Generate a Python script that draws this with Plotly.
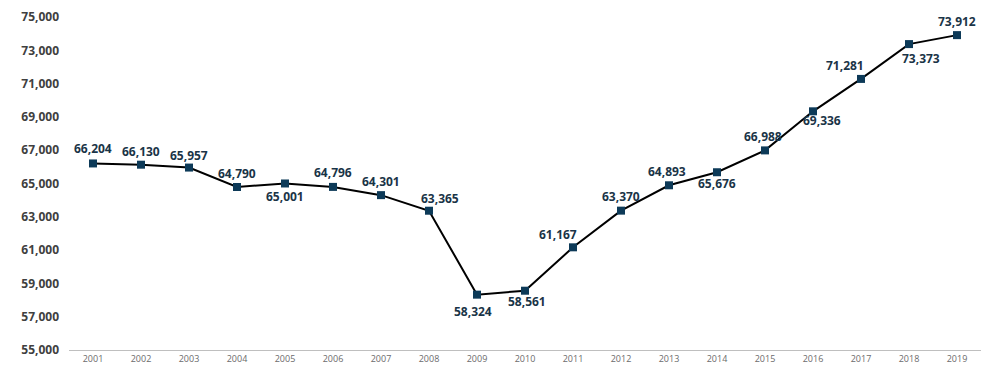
import plotly.graph_objects as go

years = ["2001", "2002", "2003", "2004", "2005", "2006", "2007", "2008", "2009", "2010",
         "2011", "2012", "2013", "2014", "2015", "2016", "2017", "2018", "2019"]
values = [66204, 66130, 65957, 64790, 65001, 64796, 64301, 63365, 58324, 58561,
          61167, 63370, 64893, 65676, 66988, 69336, 71281, 73373, 73912]
y_ticks = [55000, 57000, 59000, 61000, 63000, 65000, 67000, 69000, 71000, 73000, 75000]

# label offsets in pixels (style only)
label_dx = [0, 0, 0, 0, 0, 0, 0, 11, -4, 2, -15, 0, -2, 0, -2, 9, -16, 12, 0]
label_dy = [15, 13, 12, 14, -13, 14, 14, 12, -17, -11, 13, 14, 14, -11, 14, -9, 13, -14, 14]

fig = go.Figure()
fig.add_trace(go.Scatter(
    x=years, y=values, mode="lines+markers",
    line=dict(color="#000000", width=2),
    marker=dict(symbol="square", size=8, color="#0d3a58"),
    hoverinfo="skip", showlegend=False,
))

for i, (v, dx, dy) in enumerate(zip(values, label_dx, label_dy)):
    fig.add_annotation(
        x=i, y=v, text=f"{v:,}", showarrow=False,
        xshift=dx, yshift=dy,
        font=dict(family="Open Sans, sans-serif", size=12, color="#1a3447", weight="bold"),
    )

fig.update_layout(
    width=983, height=359,
    margin=dict(l=61, r=10, t=9, b=17, autoexpand=False),
    paper_bgcolor="white", plot_bgcolor="white",
    font=dict(family="Open Sans, sans-serif"),
    xaxis=dict(
        type="category", range=[-0.5, len(years) - 0.5], automargin=False,
        showgrid=False, showline=True, linecolor="#bfbfbf", linewidth=1,
        ticks="", ticklabelstandoff=0, tickfont=dict(size=9, color="#6b6b6b"),
    ),
    yaxis=dict(
        range=[55000, 75000], tickvals=y_ticks, tickformat=",d", automargin=False,
        showgrid=False, showline=False, zeroline=False, ticks="", ticklabelstandoff=9,
        tickfont=dict(size=12, color="#404040", weight="bold"),
    ),
)

fig.write_html("out.html")
